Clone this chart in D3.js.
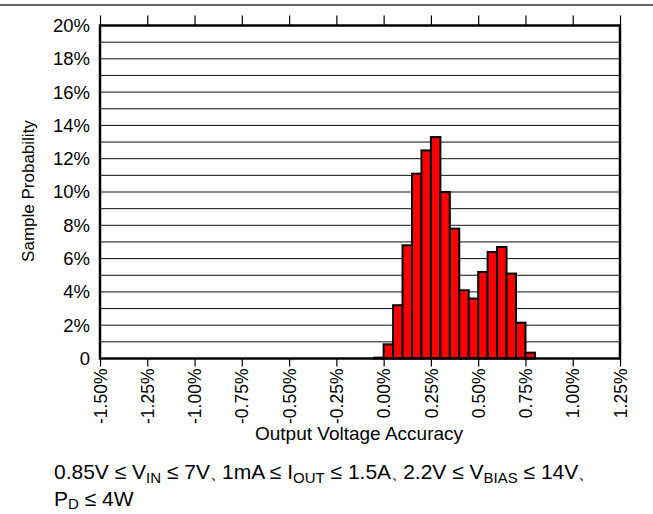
<!DOCTYPE html>
<html>
<head>
<meta charset="utf-8">
<script src="https://cdn.jsdelivr.net/npm/d3@7"></script>
<style>
  body { margin: 0; background: #fff; }
  svg { display: block; font-family: "Liberation Sans", Arial, sans-serif; }
</style>
</head>
<body>
<svg id="chart" width="653" height="514"></svg>
<script>
// Histogram bins (left edge, % accuracy) and sample probability (%)
const binStarts = [-0.05, 0.00, 0.05, 0.10, 0.15, 0.20, 0.25, 0.30, 0.35, 0.40, 0.45, 0.50, 0.55, 0.60, 0.65, 0.70, 0.75];
const probabilities = [0.05, 0.85, 3.2, 6.8, 11.1, 12.5, 13.3, 10.0, 7.8, 4.1, 3.6, 5.2, 6.4, 6.7, 5.1, 2.15, 0.35];
const binWidth = 0.05;
const xTicks = [-1.5, -1.25, -1.0, -0.75, -0.5, -0.25, 0, 0.25, 0.5, 0.75, 1.0, 1.25];
const yTicks = [0, 2, 4, 6, 8, 10, 12, 14, 16, 18, 20];
const yGrid = d3.range(1, 20, 1);

const svg = d3.select("#chart");
const x = d3.scaleLinear().domain([-1.5, 1.25]).range([100, 620]);
const y = d3.scaleLinear().domain([0, 20]).range([358.5, 25.5]);

// top separator line
svg.append("line").attr("x1", 0).attr("x2", 653).attr("y1", 5).attr("y2", 5)
  .attr("stroke", "#333").attr("stroke-width", 1.3);

// gridlines
svg.append("g").selectAll("line").data(yGrid).join("line")
  .attr("x1", x(-1.5)).attr("x2", x(1.25))
  .attr("y1", d => y(d)).attr("y2", d => y(d))
  .attr("stroke", "#111").attr("stroke-width", 1);

// bars
svg.append("g").selectAll("rect").data(binStarts).join("rect")
  .attr("x", d => x(d))
  .attr("width", d => x(d + binWidth) - x(d))
  .attr("y", (d, i) => y(probabilities[i]))
  .attr("height", (d, i) => y(0) - y(probabilities[i]))
  .attr("fill", "#ff0000").attr("stroke", "#000").attr("stroke-width", 2);

// frame
svg.append("rect").attr("x", x(-1.5)).attr("y", y(20))
  .attr("width", x(1.25) - x(-1.5)).attr("height", y(0) - y(20))
  .attr("fill", "none").attr("stroke", "#000").attr("stroke-width", 2.5);

const fmtX = d => (d < 0 ? "-" : "") + Math.abs(d).toFixed(2) + "%";

// bottom axis
const xAxis = svg.append("g").attr("transform", `translate(0,${y(0)})`)
  .call(d3.axisBottom(x).tickValues(xTicks).tickSize(8).tickFormat(fmtX));
xAxis.select(".domain").remove();
xAxis.selectAll(".tick line").attr("stroke", "#000").attr("stroke-width", 1.2);
xAxis.selectAll(".tick text")
  .attr("transform", "rotate(-90)")
  .attr("x", -10).attr("y", 0).attr("dy", "0.35em")
  .attr("text-anchor", "end")
  .attr("font-size", 17.5).attr("fill", "#000");

// top ticks
const xTop = svg.append("g").attr("transform", `translate(0,${y(20)})`)
  .call(d3.axisTop(x).tickValues(xTicks).tickSize(10).tickFormat(""));
xTop.select(".domain").remove();
xTop.selectAll(".tick line").attr("stroke", "#000").attr("stroke-width", 1.2);

// left axis labels
const yAxis = svg.append("g").attr("transform", `translate(${x(-1.5)},0)`)
  .call(d3.axisLeft(y).tickValues(yTicks).tickSize(0).tickPadding(10)
    .tickFormat(d => d === 0 ? "0" : d + "%"));
yAxis.select(".domain").remove();
yAxis.selectAll(".tick text").attr("font-size", 18.5).attr("fill", "#000");

// axis titles
svg.append("text").attr("x", 359).attr("y", 440).attr("text-anchor", "middle")
  .attr("font-size", 19).text("Output Voltage Accuracy");
svg.append("text").attr("transform", "translate(34,191) rotate(-90)")
  .attr("text-anchor", "middle").attr("font-size", 17).text("Sample Probability");

// caption
const parts = [
  ["0.85V ≤ V", false], ["IN", true], [" ≤ 7V", false], ["、", false], ["1mA ≤ I", false], ["OUT", true],
  [" ≤ 1.5A", false], ["、", false], ["2.2V ≤ V", false], ["BIAS", true], [" ≤ 14V", false], ["、", false]
];
const cap = svg.append("text").attr("x", 54).attr("y", 479).attr("font-size", 21);
parts.forEach(([t, sub], i) => {
  const prevSub = i > 0 && parts[i - 1][1];
  const ts = cap.append("tspan").text(t);
  if (sub) ts.attr("font-size", 15).attr("dy", 4);
  else if (prevSub) ts.attr("dy", -4);
  if (t === "、") ts.attr("font-size", 16).attr("letter-spacing", -4);
});
const cap2 = svg.append("text").attr("x", 54).attr("y", 506).attr("font-size", 21);
cap2.append("tspan").text("P");
cap2.append("tspan").attr("font-size", 15).attr("dy", 3).text("D");
cap2.append("tspan").attr("dy", -3).text(" ≤ 4W");
</script>
</body>
</html>
